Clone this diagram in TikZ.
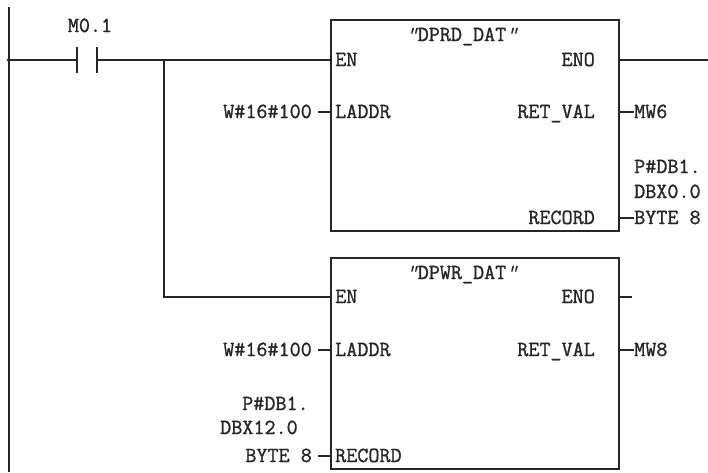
\documentclass[tikz,border=0pt]{standalone}
\usepackage{fontspec}
\setmonofont[AutoFakeBold=1.2]{Latin Modern Mono}
\usetikzlibrary{positioning}
\definecolor{wire}{HTML}{262626}
\begin{document}
\begin{tikzpicture}[
    x=1pt, y=-1pt,
    wireline/.style={draw=wire, line width=1.3pt},
    fblock/.style={draw=wire, line width=1.3pt, minimum width=288pt, minimum height=211pt, inner sep=0pt},
    txt/.style={font=\ttfamily\bfseries\fontsize{21.5}{21.5}\selectfont, text=wire, text height=12pt, text depth=0pt, inner sep=0pt},
    pinl/.style={txt, anchor=west},
    pinr/.style={txt, anchor=east}
  ]
    \useasboundingbox (0,0) rectangle (708,472);
    % rail and contact
    \coordinate (railtop) at (9,7);
    \coordinate (railbot) at (9,472);
    \coordinate (rung) at (7,60);
    \coordinate (contl) at (77,60);
    \coordinate (contr) at (97,60);
    \coordinate (branch) at (164,60);
    \coordinate (branchb) at (164,297);
    \coordinate (rungend) at (708,60);
    \node[txt] (contlab) at (90,26) {M0.1};
    \draw[wireline] (railtop) -- (railbot);
    \draw[wireline] (rung) -- (contl);
    \draw[wireline] ([yshift=13pt]contl) -- ([yshift=-13pt]contl);
    \draw[wireline] ([yshift=13pt]contr) -- ([yshift=-13pt]contr);
    % read block
    \node[fblock] (rd) at (475,125.5) {};
    \node[txt] (rdname) at (462,35) {{\itshape"}DPRD\_DAT{\itshape"}};
    \node[pinl] (rden) at (335,60) {EN};
    \node[pinl] (rdaddr) at (335,112) {LADDR};
    \node[pinr] (rdeno) at (595,60) {ENO};
    \node[pinr] (rdret) at (595,112) {RET\_VAL};
    \node[pinr] (rdrec) at (595,218) {RECORD};
    \node[pinr] (rdw) at (312,112) {W\#16\#100};
    \node[pinl] (rdmw) at (634,112) {MW6};
    \node[pinl] (rdbyte) at (634,218) {BYTE 8};
    \node[pinl] (rddbx) at (634,192) {DBX0.0};
    \node[pinl] (rdp) at (634,167) {P\#DB1.};
    % write block
    \node[fblock] (wr) at (475,363.5) {};
    \node[txt] (wrname) at (462,273) {{\itshape"}DPWR\_DAT{\itshape"}};
    \node[pinl] (wren) at (335,297) {EN};
    \node[pinl] (wraddr) at (335,350) {LADDR};
    \node[pinl] (wrrec) at (335,456) {RECORD};
    \node[pinr] (wreno) at (595,297) {ENO};
    \node[pinr] (wrret) at (595,350) {RET\_VAL};
    \node[pinr] (wrw) at (312,350) {W\#16\#100};
    \node[pinr] (wrbyte) at (312,456) {BYTE 8};
    \node[pinl] (wrdbx) at (220,428) {DBX12.0};
    \node[pinl] (wrp) at (242,404) {P\#DB1.};
    \node[pinl] (wrmw) at (634,350) {MW8};
    \coordinate (wrstub) at (632,297);
    % connectors
    \draw[wireline] (contr) -- (rd.west |- contr);
    \draw[wireline] (rd.east |- rungend) -- (rungend);
    \draw[wireline] (branch) -- (branchb) -- (wr.west |- branchb);
    \draw[wireline] ([xshift=6pt]rdw.east) -- (rd.west |- rdw);
    \draw[wireline] ([xshift=6pt]wrw.east) -- (wr.west |- wrw);
    \draw[wireline] ([xshift=6pt]wrbyte.east) -- (wr.west |- wrbyte);
    \draw[wireline] (rd.east |- rdmw) -- (rdmw.west);
    \draw[wireline] (rd.east |- rdbyte) -- (rdbyte.west);
    \draw[wireline] (wr.east |- wrmw) -- (wrmw.west);
    \draw[wireline] (wr.east |- wrstub) -- (wrstub);
  \end{tikzpicture}
\end{document}
